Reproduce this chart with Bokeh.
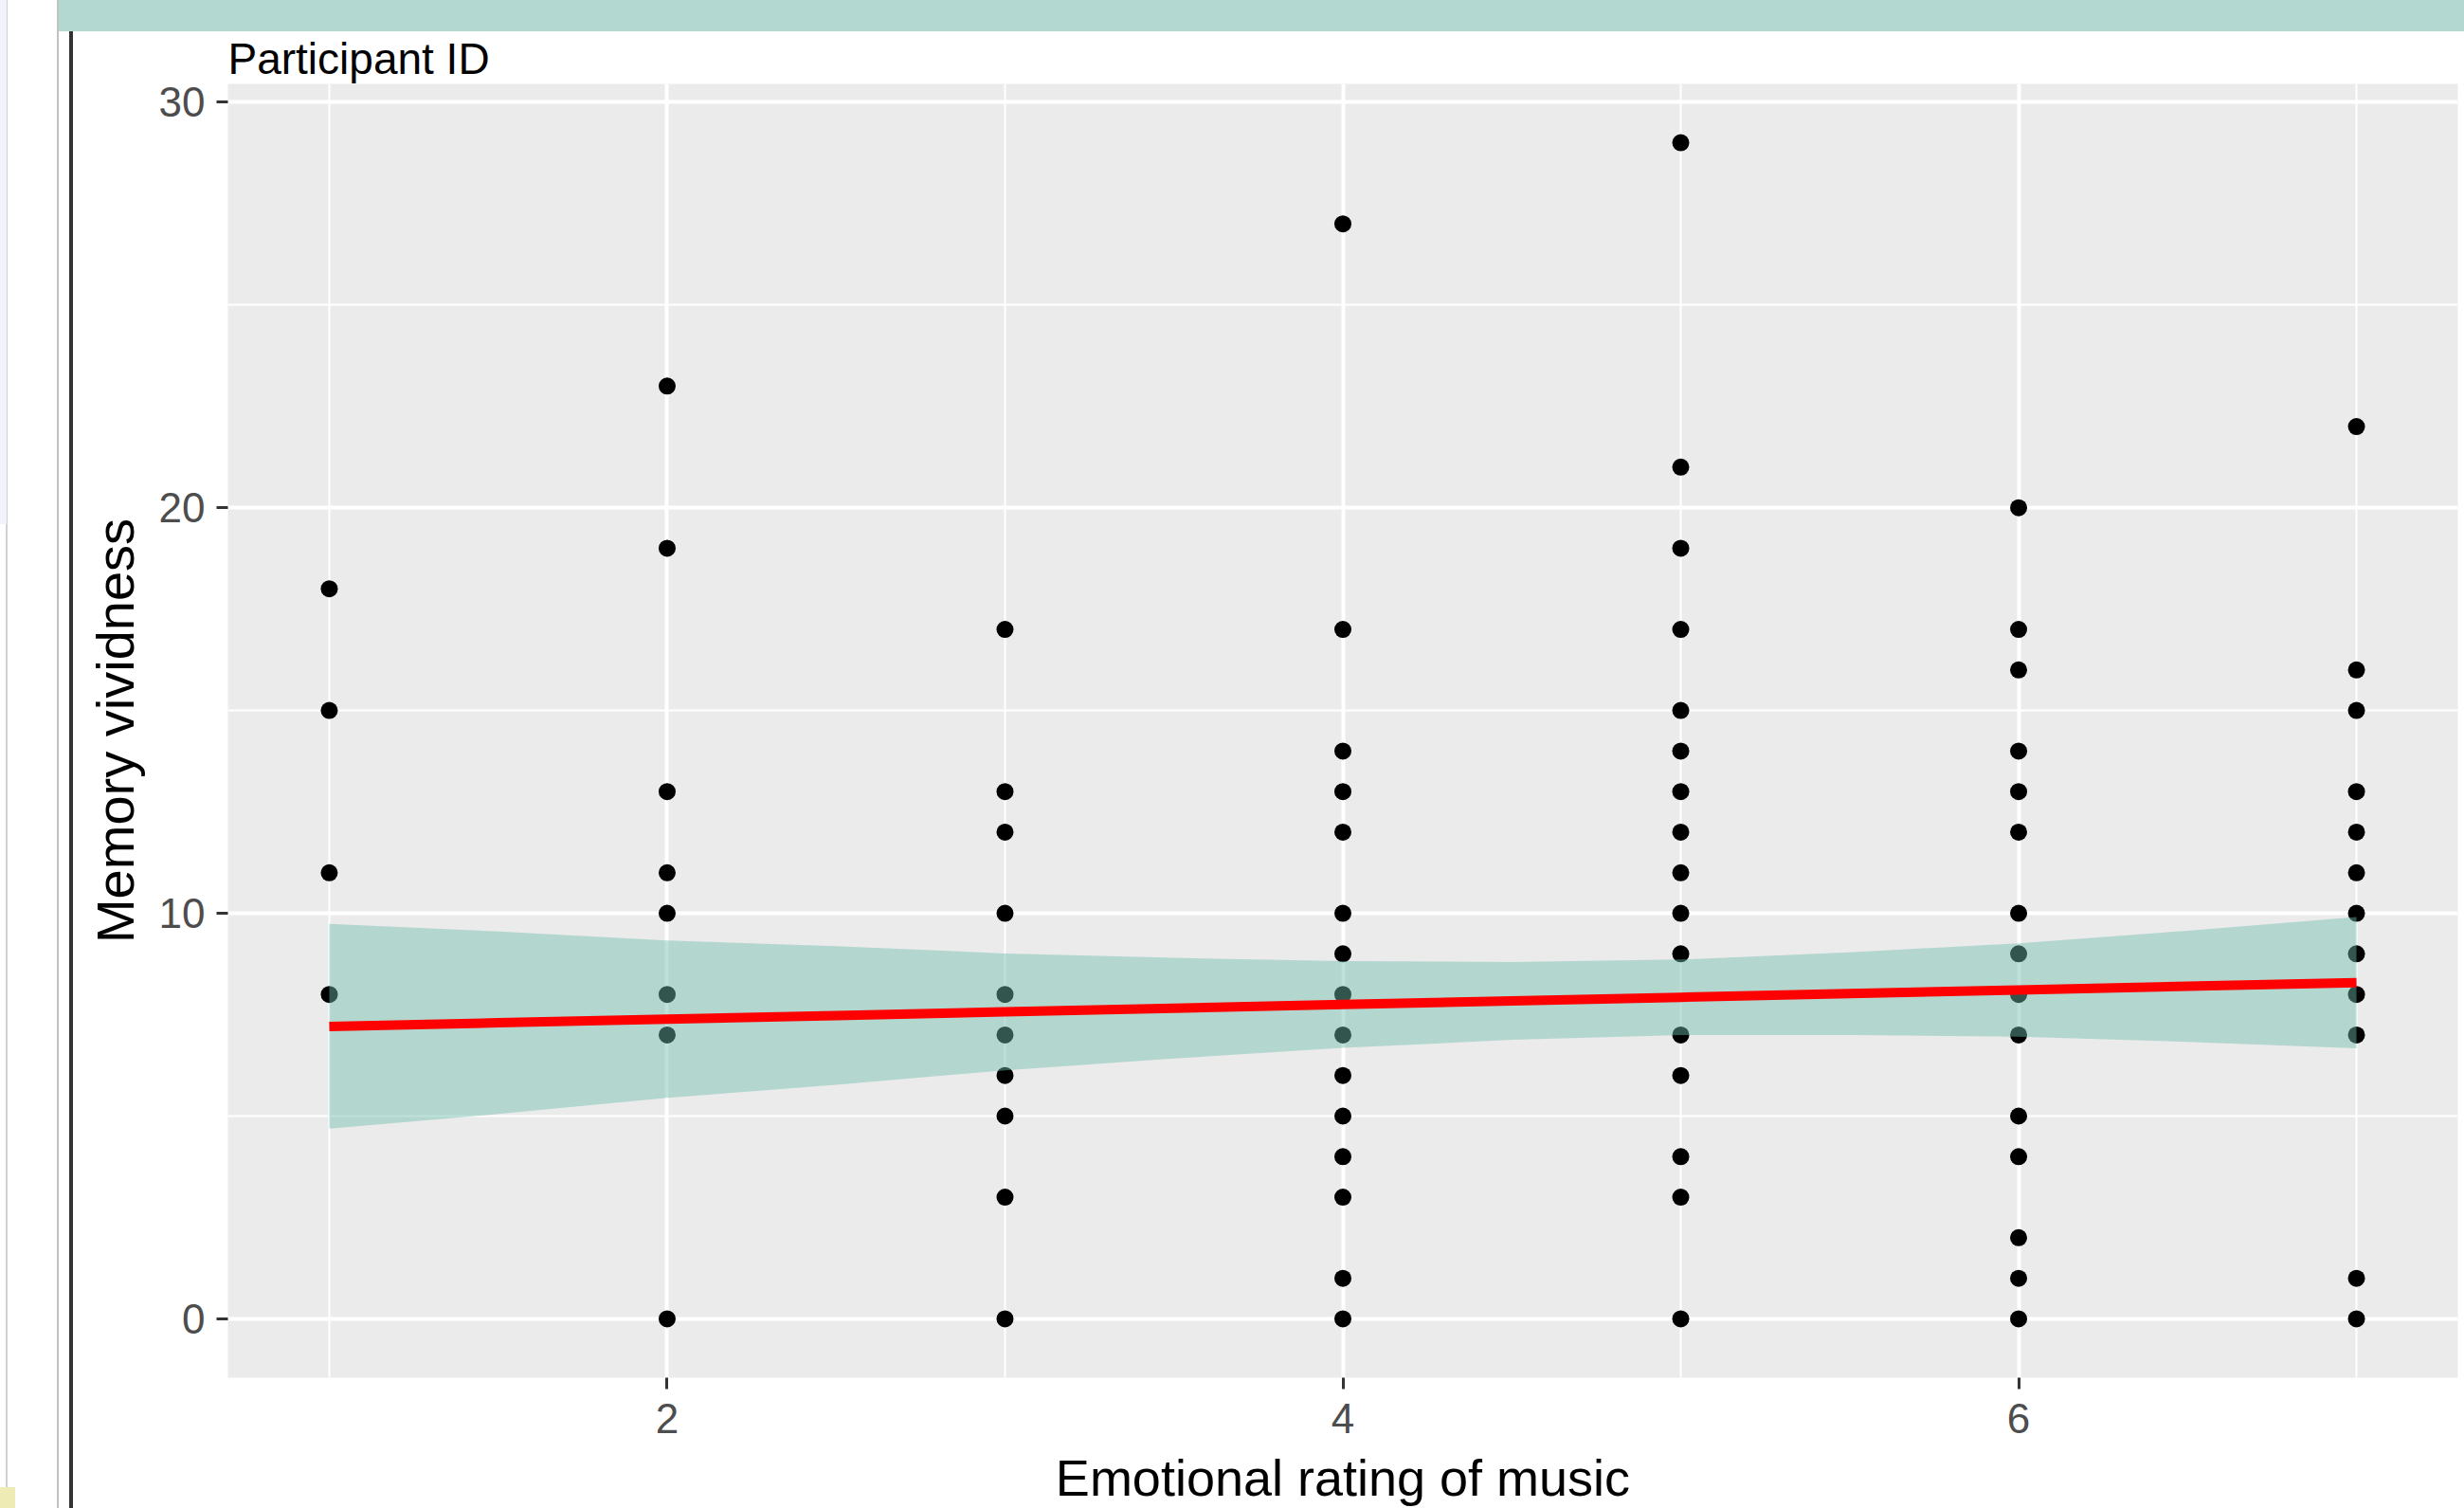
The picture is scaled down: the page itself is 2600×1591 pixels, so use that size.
from bokeh.plotting import figure
from bokeh.models import Range1d, SingleIntervalTicker, Div
from bokeh.layouts import row, column
from bokeh.embed import file_html
from bokeh.resources import INLINE

# ---- data ----
ratings = [1, 2, 3, 4, 5, 6, 7]
vividness_by_rating = {
    1: [18, 15, 11, 8],
    2: [23, 19, 13, 11, 10, 8, 7, 0],
    3: [17, 13, 12, 10, 8, 7, 6, 5, 3, 0],
    4: [27, 17, 14, 13, 12, 10, 9, 8, 7, 6, 5, 4, 3, 1, 0],
    5: [29, 21, 19, 17, 15, 14, 13, 12, 11, 10, 9, 7, 6, 4, 3, 0],
    6: [20, 17, 16, 14, 13, 12, 10, 9, 8, 7, 5, 4, 2, 1, 0],
    7: [22, 16, 15, 13, 12, 11, 10, 9, 8, 7, 1, 0],
}
fit_x = [1, 1.5, 2, 2.5, 3, 3.5, 4, 4.5, 5, 5.5, 6, 6.5, 7]
fit_y = [7.21, 7.30, 7.39, 7.48, 7.57, 7.66, 7.75, 7.84, 7.93, 8.02, 8.11, 8.20, 8.29]
band_upper = [9.74, 9.55, 9.33, 9.19, 9.01, 8.90, 8.82, 8.80, 8.86, 9.04, 9.26, 9.57, 9.91]
band_lower = [4.69, 5.05, 5.45, 5.77, 6.13, 6.42, 6.68, 6.88, 7.00, 7.00, 6.96, 6.83, 6.67]

title_text = "Participant ID"
x_title = "Emotional rating of music"
y_title = "Memory vividness"

FONT = "Liberation Sans"

pt_x, pt_y = [], []
for r in ratings:
    for v in vividness_by_rating[r]:
        pt_x.append(r)
        pt_y.append(v)

p = figure(width=2523, height=1558, output_backend="svg", toolbar_location=None,
           x_range=Range1d(0.7, 7.3), y_range=Range1d(-1.45, 30.45),
           min_border_left=163, min_border_right=7, min_border_top=55,
           min_border_bottom=137, margin=0)
p.background_fill_color = "#EBEBEB"
p.border_fill_color = "white"
p.outline_line_color = None

p.title.text = title_text
p.title.align = "left"
p.title.text_font = FONT
p.title.text_font_size = "46px"
p.title.text_font_style = "normal"
p.title.text_color = "black"
p.title.standoff = 1

p.xaxis.ticker = SingleIntervalTicker(interval=2, num_minor_ticks=2)
p.yaxis.ticker = SingleIntervalTicker(interval=10, num_minor_ticks=2)
p.xgrid.ticker = p.xaxis.ticker
p.ygrid.ticker = p.yaxis.ticker
for g in (p.xgrid, p.ygrid):
    g.grid_line_color = "white"
    g.grid_line_width = 4
    g.minor_grid_line_color = "white"
    g.minor_grid_line_width = 2

for ax in (p.xaxis, p.yaxis):
    ax.axis_line_color = None
    ax.major_tick_line_color = "#333333"
    ax.major_tick_line_width = 3
    ax.major_tick_out = 12
    ax.major_tick_in = 0
    ax.minor_tick_line_color = None
    ax.major_label_text_font = FONT
    ax.major_label_text_font_size = "44px"
    ax.major_label_text_color = "#4D4D4D"
    ax.axis_label_text_font = FONT
    ax.axis_label_text_font_style = "normal"
    ax.axis_label_text_color = "black"
p.xaxis.axis_label = x_title
p.yaxis.axis_label = y_title
p.xaxis.axis_label_text_font_size = "54px"
p.yaxis.axis_label_text_font_size = "56px"
p.xaxis.major_label_standoff = 15
p.yaxis.major_label_standoff = 12
p.xaxis.axis_label_standoff = 14
p.yaxis.axis_label_standoff = 12

p.scatter(pt_x, pt_y, size=18, color="black", line_color=None)
p.varea(x=fit_x, y1=band_lower, y2=band_upper, fill_color="#6fbdad", fill_alpha=0.45)
p.line(fit_x, fit_y, line_color="#FF0000", line_width=10)

div_left = Div(text="", width=62, height=1591, margin=0,
               styles={"background":
                       "linear-gradient(#efebb5,#efebb5) left bottom / 16px 22px no-repeat, "
                       "linear-gradient(#f2f2fc,#f2f2fc) left top / 7px 553px no-repeat, "
                       "linear-gradient(#cfcfd6,#cfcfd6) 6px 0 / 2px 100% no-repeat, "
                       "linear-gradient(#c2c2c2,#c2c2c2) 60px 0 / 2px 100% no-repeat, white"})
div_teal = Div(text="", width=2538, height=33, margin=0,
               styles={"background-color": "#b3d7d1"})
div_gap = Div(text="", width=11, height=1558, margin=0, styles={"background-color": "white"})
div_dark = Div(text="", width=4, height=1558, margin=0, styles={"background-color": "#333333"})

layout = row(div_left, column(div_teal, row(div_gap, div_dark, p, margin=0), margin=0),
             margin=0)

open("out.html", "w").write(file_html(layout, INLINE))
